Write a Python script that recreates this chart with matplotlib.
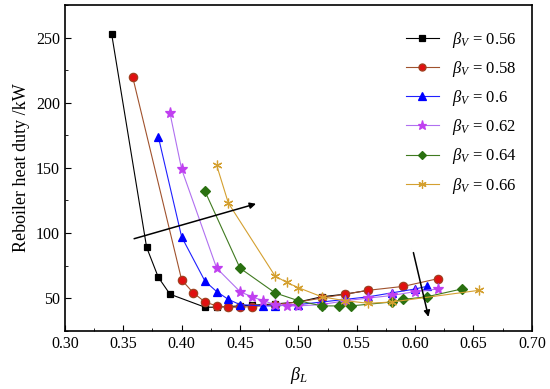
import numpy as np
import matplotlib.pyplot as plt
from matplotlib.ticker import MultipleLocator

plt.rcParams['font.family'] = ['Liberation Serif', 'DejaVu Serif']
plt.rcParams['mathtext.fontset'] = 'custom'
plt.rcParams['mathtext.it'] = 'Liberation Serif:italic'
plt.rcParams['mathtext.rm'] = 'Liberation Serif'

# data
x_056 = [0.34, 0.37, 0.38, 0.39, 0.42, 0.43, 0.44, 0.45, 0.46, 0.48, 0.50, 0.52, 0.54, 0.56]
y_056 = [253, 89, 66, 53, 43, 43, 43.5, 44, 44.5, 45.5, 47, 51, 53, 56]

x_058 = [0.358, 0.40, 0.41, 0.42, 0.43, 0.44, 0.45, 0.46, 0.48, 0.50, 0.52, 0.54, 0.56, 0.59, 0.62]
y_058 = [220, 64, 54, 47, 44, 43, 43, 43.5, 45, 47, 50, 53, 56, 59, 65]

x_060 = [0.38, 0.40, 0.42, 0.43, 0.44, 0.45, 0.47, 0.48, 0.50, 0.52, 0.54, 0.56, 0.58, 0.60, 0.61]
y_060 = [174, 97, 63, 55, 49, 45, 44, 44, 45, 47, 49, 51, 54, 57, 59]

x_062 = [0.39, 0.40, 0.43, 0.45, 0.46, 0.47, 0.48, 0.49, 0.50, 0.52, 0.54, 0.56, 0.58, 0.60, 0.62]
y_062 = [192, 149, 73, 55, 51, 48, 45, 44, 44, 45, 48, 50, 52, 55, 57]

x_064 = [0.42, 0.45, 0.48, 0.50, 0.52, 0.535, 0.545, 0.58, 0.59, 0.61, 0.64]
y_064 = [132, 73, 54, 48, 44, 44, 44, 47, 49, 51, 57]

x_066 = [0.43, 0.44, 0.48, 0.49, 0.50, 0.52, 0.54, 0.56, 0.58, 0.655]
y_066 = [152, 123, 67, 62, 58, 51, 48, 46, 47, 56]

labels = ["0.56", "0.58", "0.6", "0.62", "0.64", "0.66"]

fig = plt.figure(figsize=(5.5, 3.89), dpi=100)
ax = fig.add_axes([0.118, 0.15, 0.849, 0.837])

series = [
    (x_056, y_056, "s", "black", "black", "black", 5),
    (x_058, y_058, "o", "#a0522d", "#e01010", "#a04020", 6),
    (x_060, y_060, "^", "#2020ff", "#0000ff", "#0000ff", 6),
    (x_062, y_062, "*", "#b070f0", "#c040f0", "#c040f0", 8),
    (x_064, y_064, "D", "#407a20", "#2a7010", "#2a7010", 5),
    (x_066, y_066, (6, 2, 0), "#d4a030", "#d4a030", "#d4a030", 7),
]

for (xs, ys, m, lc, fc, ec, ms), lab in zip(series, labels):
    ax.plot(xs, ys, color=lc, lw=0.8, marker=m, markersize=ms,
            markerfacecolor=fc, markeredgecolor=ec, markeredgewidth=0.9,
            label=r"$\beta_V$ = " + lab)

ax.annotate("", xy=(0.466, 123), xytext=(0.357, 95),
            arrowprops=dict(arrowstyle="-|>", color="black", lw=1.1,
                            mutation_scale=9))
ax.annotate("", xy=(0.612, 33.5), xytext=(0.598, 87),
            arrowprops=dict(arrowstyle="-|>", color="black", lw=1.1,
                            mutation_scale=9))

ax.set_xlim(0.30, 0.70)
ax.set_ylim(25, 275)
ax.xaxis.set_major_locator(MultipleLocator(0.05))
ax.xaxis.set_minor_locator(MultipleLocator(0.025))
ax.yaxis.set_major_locator(MultipleLocator(50))
ax.yaxis.set_minor_locator(MultipleLocator(25))
ax.xaxis.set_major_formatter(plt.FuncFormatter(lambda v, p: f"{v:.2f}"))
ax.tick_params(which="both", direction="in", labelsize=11.5)
ax.tick_params(which="major", length=4)
ax.tick_params(which="minor", length=2.5)
for s in ax.spines.values():
    s.set_linewidth(1.2)

ax.set_xlabel(r"$\beta_L$", fontsize=13, labelpad=10)
ax.set_ylabel("Reboiler heat duty /kW", fontsize=13)

ax.legend(loc="upper right", frameon=False, fontsize=12, handlelength=2.0,
          labelspacing=0.55, markerscale=0.85, bbox_to_anchor=(1.0, 0.97))

fig.savefig("out.png", dpi=100)
